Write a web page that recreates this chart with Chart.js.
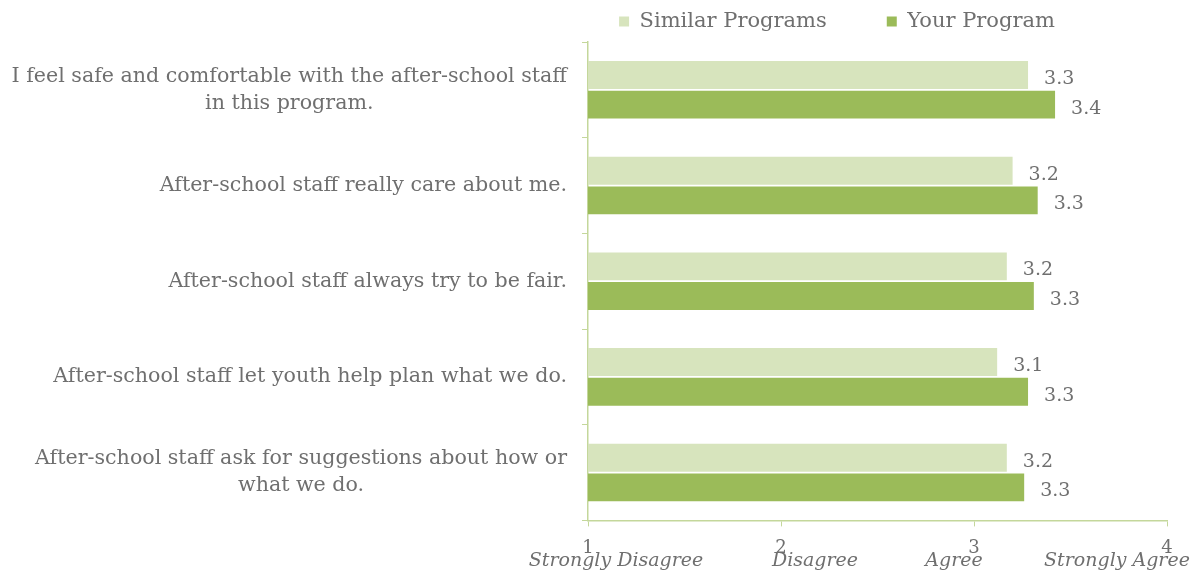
<!DOCTYPE html>
<html>
<head>
<meta charset="utf-8">
<script src="https://cdn.jsdelivr.net/npm/chart.js@4/dist/chart.umd.min.js"></script>
<style>
  html, body { margin: 0; padding: 0; background: #fff; }
  #wrap { width: 1194px; height: 573px; position: relative; }
</style>
</head>
<body>
<div id="wrap"><canvas id="staffChart"></canvas></div>
<script>
// Survey items (multi-line ones are split into lines)
const questions = [
    ['I feel safe and comfortable with the after-school staff', 'in this program.'],
    ['After-school staff really care about me.'],
    ['After-school staff always try to be fair.'],
    ['After-school staff let youth help plan what we do.'],
    ['After-school staff ask for suggestions about how or', 'what we do.']
];
const similarPrograms = [3.28, 3.20, 3.17, 3.12, 3.17];
const yourProgram = [3.42, 3.33, 3.31, 3.28, 3.26];
const scaleTicks = [1, 2, 3, 4];
const scaleCaptions = ['Strongly Disagree', 'Disagree', 'Agree', 'Strongly Agree'];

const textGray = '#6f6f6f';
const axisGreen = '#c4d79b';
const serif = "'DejaVu Serif', Georgia, serif";

// Question text left of the axis: block right-aligned, lines centred within the block
const questionLabels = {
    id: 'questionLabels',
    afterDraw(chart) {
        const ctx = chart.ctx;
        const y = chart.scales.y;
        const right = chart.chartArea.left - 21;
        const lineH = 27;
        ctx.save();
        ctx.font = '20.6px ' + serif;
        ctx.fillStyle = textGray;
        ctx.textAlign = 'center';
        ctx.textBaseline = 'middle';
        questions.forEach((lines, i) => {
            const w = Math.max(...lines.map(l => ctx.measureText(l).width));
            const cx = right - w / 2;
            const cy = y.getPixelForValue(i) - (lines.length - 1) * lineH / 2;
            lines.forEach((l, j) => ctx.fillText(l, cx, cy + j * lineH));
        });
        ctx.restore();
    }
};

// Italic captions under the numeric scale ticks
const captionShift = [28, 34, -20, -50];
const scaleCaptionLabels = {
    id: 'scaleCaptionLabels',
    afterDraw(chart) {
        const ctx = chart.ctx;
        const x = chart.scales.x;
        ctx.save();
        ctx.font = 'italic 19px ' + serif;
        ctx.fillStyle = textGray;
        ctx.textAlign = 'center';
        ctx.textBaseline = 'middle';
        scaleTicks.forEach((t, i) => {
            ctx.fillText(scaleCaptions[i], x.getPixelForValue(t) + captionShift[i], chart.chartArea.bottom + 41);
        });
        ctx.restore();
    }
};

// Value labels just past the end of each bar
const barValues = {
    id: 'barValues',
    afterDatasetsDraw(chart) {
        const ctx = chart.ctx;
        ctx.save();
        ctx.font = '19px ' + serif;
        ctx.fillStyle = textGray;
        ctx.textAlign = 'left';
        ctx.textBaseline = 'middle';
        chart.data.datasets.forEach((ds, di) => {
            chart.getDatasetMeta(di).data.forEach((bar, i) => {
                ctx.fillText(ds.data[i].toFixed(1), bar.x + 16, bar.y + 4);
            });
        });
        ctx.restore();
    }
};

new Chart(document.getElementById('staffChart'), {
    type: 'bar',
    data: {
        labels: questions.map(q => q.join(' ')),
        datasets: [{
            label: 'Similar Programs',
            data: similarPrograms,
            backgroundColor: '#d7e4bd',
            barPercentage: 0.94,
            categoryPercentage: 0.62
        }, {
            label: 'Your Program',
            data: yourProgram,
            backgroundColor: '#9bbb59',
            barPercentage: 0.94,
            categoryPercentage: 0.62
        }]
    },
    options: {
        indexAxis: 'y',
        responsive: true,
        maintainAspectRatio: false,
        animation: false,
        layout: {
            padding: { left: 507, right: 27, top: -49, bottom: 3 }
        },
        plugins: {
            legend: {
                position: 'top',
                labels: {
                    boxWidth: 10,
                    boxHeight: 10,
                    padding: 60,
                    color: textGray,
                    font: { family: serif, size: 21 }
                }
            },
            tooltip: { enabled: false }
        },
        scales: {
            x: {
                min: 1,
                max: 4,
                afterBuildTicks: scale => { scale.ticks = scaleTicks.map(v => ({ value: v })); },
                border: { color: axisGreen, width: 1.5 },
                grid: { drawOnChartArea: false, drawTicks: true, tickLength: 6, color: axisGreen },
                ticks: {
                    color: textGray,
                    padding: 11,
                    font: { family: serif, size: 18 }
                }
            },
            y: {
                afterFit: scale => { scale.width = 81; },
                border: { color: axisGreen, width: 1.5 },
                grid: { drawOnChartArea: false, drawTicks: true, tickLength: 6, color: axisGreen, offset: true },
                ticks: { callback: () => '' }
            }
        }
    },
    plugins: [questionLabels, scaleCaptionLabels, barValues]
});
</script>
</body>
</html>
